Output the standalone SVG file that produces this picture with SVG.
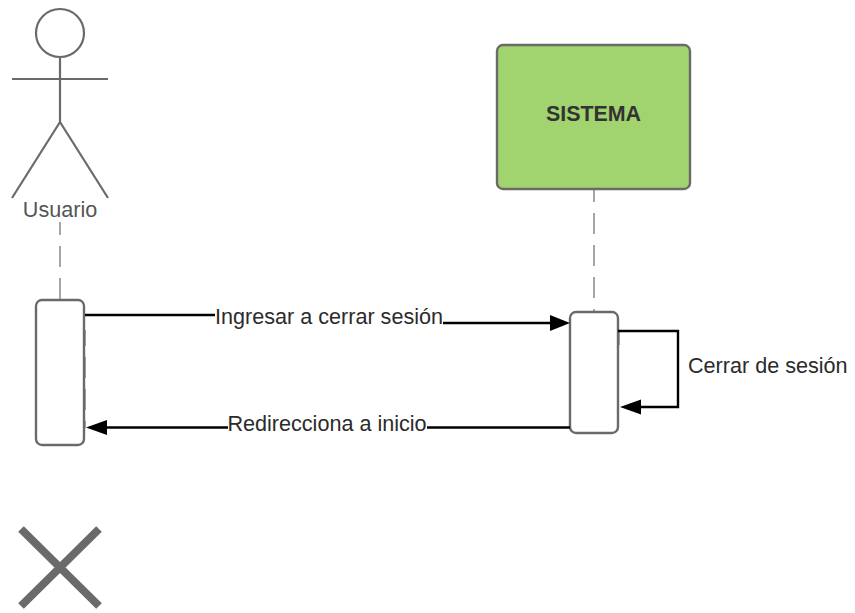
<svg xmlns="http://www.w3.org/2000/svg" width="855" height="613" viewBox="0 0 855 613">
<style>
text{font-family:"Liberation Sans",Arial,sans-serif;font-size:21.6px;fill:#2b2b2b}
.c{fill:none;stroke:#000;stroke-width:2.4}
.l{fill:none;stroke:#a6a6a6;stroke-width:2;stroke-dasharray:21 11}
.s{fill:none;stroke:#6a6a6a;stroke-width:2.2}
.b{fill:#fff;stroke:#6a6a6a;stroke-width:2.4}
</style>
<rect width="855" height="613" fill="#fff"/>
<g id="lifelines">
<path class="l" stroke-dashoffset="8" d="M60 222V300"/>
<path class="l" stroke-dashoffset="9" d="M594 190V312"/>
<path class="l" stroke-dashoffset="5" d="M85 330V428"/>
<path class="l" d="M619 331V345"/>
</g>
<g id="actor">
<circle class="s" cx="60" cy="33" r="24"/>
<path class="s" d="M60 57V122M12 79H108M60 122L12 198M60 122L108 198"/>
<text x="60" y="217" text-anchor="middle" style="fill:#555">Usuario</text>
</g>
<g id="sistema">
<rect x="497" y="45" width="193" height="144" rx="6" fill="#a1d36e" stroke="#6a6a6a" stroke-width="2.4"/>
<text x="593.500" y="121" text-anchor="middle" style="font-weight:bold;font-size:21.4px;fill:#333">SISTEMA</text>
</g>
<g id="activation-usuario"><rect class="b" x="36" y="300" width="48" height="145" rx="6"/></g>
<g id="activation-sistema"><rect class="b" x="570" y="312" width="48" height="121" rx="6"/></g>
<g id="connectors">
<path class="c" d="M85 315H215M443 323H552"/>
<path d="M550 315L570 323L550 331Z"/>
<path class="c" d="M618 331H678V407H638"/>
<path d="M641 399.500L620 407L641 414.500Z"/>
<path class="c" d="M570 427.500H427M228 427.500H104"/>
<path d="M107 420L86 427.500L107 435Z"/>
</g>
<g id="labels">
<text x="329" y="324" text-anchor="middle">Ingresar a cerrar sesión</text>
<text x="327" y="431" text-anchor="middle">Redirecciona a inicio</text>
<text x="688" y="373">Cerrar de sesión</text>
</g>
<g id="destroy"><path d="M21 529L99 606M99 529L21 606" fill="none" stroke="#6a6a6a" stroke-width="8"/></g>
</svg>
